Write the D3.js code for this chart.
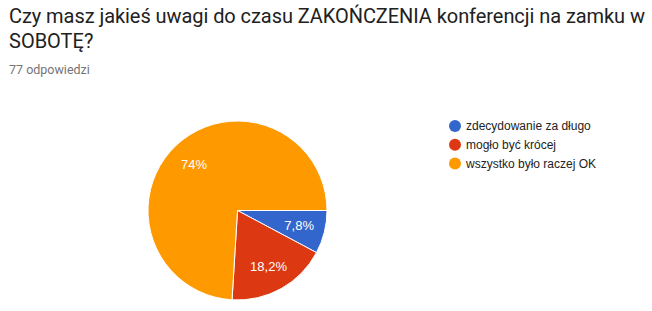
<!DOCTYPE html>
<html><head><meta charset="utf-8">
<script src="https://cdn.jsdelivr.net/npm/d3@7"></script>
<style>body{margin:0;background:#fff}svg{display:block}</style>
</head><body>
<script>
const titleLines = ["Czy masz jakieś uwagi do czasu ZAKOŃCZENIA konferencji na zamku w", "SOBOTĘ?"];
const subtitle = "77 odpowiedzi";
const categories = ["zdecydowanie za długo", "mogło być krócej", "wszystko było raczej OK"];
const counts = [6, 14, 57];
const sliceLabels = ["7,8%", "18,2%", "74%"];
const colors = ["#3366cc", "#dc3912", "#ff9900"];

const W = 652, H = 311;
const svg = d3.select("body").append("svg").attr("width", W).attr("height", H);

const tl = svg.selectAll("text.title").data(titleLines).join("text")
  .attr("class","title")
  .attr("x", 9).attr("y", (d,i)=>22.7 + i*25.6)
  .attr("font-family","Roboto").attr("font-size",20).attr("fill","#212121")
  .text(d=>d);
tl.filter((d,i)=>i===0).attr("textLength",636).attr("lengthAdjust","spacing");
svg.append("text").attr("x",9).attr("y",74)
  .attr("font-family","Roboto").attr("font-size",12.5).attr("fill","#757575").text(subtitle);

const cx = 237.5, cy = 210.5, r = 89.5;
const pie = d3.pie().sort(null).startAngle(Math.PI/2).endAngle(Math.PI/2 + 2*Math.PI);
const arcs = pie(counts);
const arc = d3.arc().innerRadius(0).outerRadius(r);
const labelArc = d3.arc().innerRadius(r*0.71).outerRadius(r*0.71);
const g = svg.append("g").attr("transform",`translate(${cx},${cy})`);
g.selectAll("path").data(arcs).join("path")
  .attr("d",arc).attr("fill",(d,i)=>colors[i]).attr("stroke","#fff").attr("stroke-width",1);
g.selectAll("text").data(arcs).join("text")
  .attr("transform",d=>`translate(${labelArc.centroid(d)})`)
  .attr("text-anchor","middle").attr("dy","0.35em")
  .attr("font-family","Liberation Sans, Arial").attr("font-size",13).attr("fill","#fff")
  .text((d,i)=>sliceLabels[i]);

const leg = svg.append("g");
const rows = leg.selectAll("g").data(categories).join("g")
  .attr("transform",(d,i)=>`translate(455,${126 + i*18.8})`);
rows.append("circle").attr("r",6).attr("fill",(d,i)=>colors[i]);
rows.append("text").attr("x",11).attr("dy","0.35em")
  .attr("font-family","Liberation Sans, Arial").attr("font-size",12).attr("fill","#222")
  .text(d=>d);
</script>
</body></html>
